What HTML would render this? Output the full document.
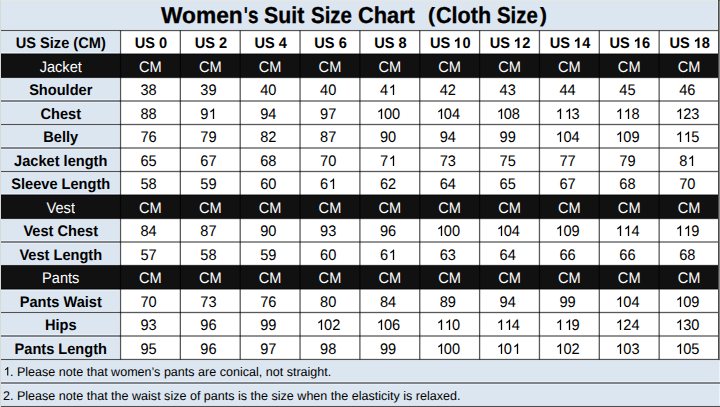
<!DOCTYPE html><html><head><meta charset="utf-8"><style>
html,body{margin:0;padding:0}
body{width:720px;height:407px;overflow:hidden;position:relative;background:#dce6f1;font-family:"Liberation Sans",sans-serif;color:#000;text-rendering:geometricPrecision}
svg{position:absolute;left:0;top:0}
.t{position:absolute;white-space:nowrap;text-align:center;height:20px;line-height:20px;font-size:14.60px;transform:scaleY(1.05);transform-origin:0 15px}
.b{font-weight:bold}
svg.o{position:static;display:inline-block;width:0.5562em;height:0.688em;vertical-align:baseline;fill:currentColor;overflow:visible}
.w{color:#fff}
.ti{position:absolute;top:0;font:bold 23px/30px "Liberation Sans",sans-serif;white-space:pre;transform-origin:0 0;text-rendering:geometricPrecision;-webkit-text-stroke:0.3px #000}
.n{position:absolute;white-space:nowrap;font-size:12.55px;line-height:16px}
</style></head><body>
<svg width="720" height="407" viewBox="0 0 720 407" shape-rendering="geometricPrecision"><rect x="0" y="0" width="720" height="1" fill="#e6e6e4"/><rect x="0" y="0" width="1" height="407" fill="#d8dada"/><rect x="120.50" y="30.50" width="598.50" height="329.00" fill="#fff"/><rect x="1" y="54.00" width="718.00" height="23.50" fill="#111"/><rect x="1" y="195.00" width="718.00" height="23.50" fill="#111"/><rect x="1" y="265.50" width="718.00" height="23.50" fill="#111"/><rect x="719" y="359.50" width="1" height="47.50" fill="#eef2f6"/><g fill="#000" fill-opacity="0.65"><rect x="1" y="29.850" width="719" height="1.30"/><rect x="1" y="53.350" width="719" height="1.30"/><rect x="1" y="76.850" width="719" height="1.30"/><rect x="1" y="100.350" width="719" height="1.30"/><rect x="1" y="123.850" width="719" height="1.30"/><rect x="1" y="147.350" width="719" height="1.30"/><rect x="1" y="170.850" width="719" height="1.30"/><rect x="1" y="194.350" width="719" height="1.30"/><rect x="1" y="217.850" width="719" height="1.30"/><rect x="1" y="241.350" width="719" height="1.30"/><rect x="1" y="264.850" width="719" height="1.30"/><rect x="1" y="288.350" width="719" height="1.30"/><rect x="1" y="311.850" width="719" height="1.30"/><rect x="1" y="335.350" width="719" height="1.30"/><rect x="1" y="358.850" width="719" height="1.30"/><rect x="1" y="382.350" width="719" height="1.30"/><rect x="1" y="405.850" width="719" height="1.30"/><rect x="119.850" y="30.500" width="1.30" height="329.000"/><rect x="179.700" y="30.500" width="1.30" height="329.000"/><rect x="239.550" y="30.500" width="1.30" height="329.000"/><rect x="299.400" y="30.500" width="1.30" height="329.000"/><rect x="359.250" y="30.500" width="1.30" height="329.000"/><rect x="419.100" y="30.500" width="1.30" height="329.000"/><rect x="478.950" y="30.500" width="1.30" height="329.000"/><rect x="538.800" y="30.500" width="1.30" height="329.000"/><rect x="598.650" y="30.500" width="1.30" height="329.000"/><rect x="658.500" y="30.500" width="1.30" height="329.000"/></g><g fill="#fff" fill-opacity="0.35"><rect x="1" y="29" width="717" height="1"/><rect x="1" y="31" width="119" height="1"/><rect x="1" y="52" width="119" height="1"/><rect x="1" y="78" width="119" height="1"/><rect x="1" y="99" width="119" height="1"/><rect x="1" y="102" width="119" height="1"/><rect x="1" y="123" width="119" height="1"/><rect x="1" y="125" width="119" height="1"/><rect x="1" y="146" width="119" height="1"/><rect x="1" y="149" width="119" height="1"/><rect x="1" y="170" width="119" height="1"/><rect x="1" y="172" width="119" height="1"/><rect x="1" y="193" width="119" height="1"/><rect x="1" y="219" width="119" height="1"/><rect x="1" y="240" width="119" height="1"/><rect x="1" y="243" width="119" height="1"/><rect x="1" y="264" width="119" height="1"/><rect x="1" y="290" width="119" height="1"/><rect x="1" y="311" width="119" height="1"/><rect x="1" y="313" width="119" height="1"/><rect x="1" y="334" width="119" height="1"/><rect x="1" y="337" width="119" height="1"/><rect x="1" y="358" width="119" height="1"/><rect x="1" y="360" width="718" height="1"/><rect x="1" y="381" width="718" height="1"/><rect x="1" y="384" width="718" height="1"/><rect x="1" y="405" width="718" height="1"/><rect x="119" y="32" width="1" height="20"/><rect x="119" y="79" width="1" height="20"/><rect x="119" y="103" width="1" height="20"/><rect x="119" y="126" width="1" height="20"/><rect x="119" y="150" width="1" height="20"/><rect x="119" y="173" width="1" height="20"/><rect x="119" y="220" width="1" height="20"/><rect x="119" y="244" width="1" height="20"/><rect x="119" y="291" width="1" height="20"/><rect x="119" y="314" width="1" height="20"/><rect x="119" y="338" width="1" height="20"/><rect x="717" y="0" width="1" height="29"/></g><rect x="718" y="0" width="1" height="359.50" fill="#4a4a4a"/><rect x="719" y="0" width="1" height="359.50" fill="#8a8a8a"/><rect x="719" y="0" width="1" height="1" fill="#2b8a22"/></svg>
<div class="ti" style="left:160.89px;transform:scaleX(0.9891)">Women</div>
<div class="ti" style="left:243.67px;transform:scaleX(0.6686)">'</div>
<div class="ti" style="left:248.38px;transform:scaleX(0.8218)">s</div>
<div class="ti" style="left:264.42px;transform:scaleX(0.9258)">Suit</div>
<div class="ti" style="left:311.04px;transform:scaleX(0.8893)">Size</div>
<div class="ti" style="left:358.08px;transform:scaleX(0.9469)">Chart</div>
<div class="ti" style="left:427.59px;transform:scale(0.9161,0.8966);transform-origin:0 15.3px">(</div>
<div class="ti" style="left:435.99px;transform:scaleX(0.9375)">Cloth</div>
<div class="ti" style="left:497.35px;transform:scaleX(0.8870)">Size</div>
<div class="ti" style="left:539.85px;transform:scale(0.9030,0.8966);transform-origin:0 15.3px">)</div>
<div class="t b" style="left:1.00px;top:34px;width:119.50px">US Size (CM)</div>
<div class="t b" style="left:121.10px;top:34px;width:59.85px">US 0</div>
<div class="t b" style="left:180.95px;top:34px;width:59.85px">US 2</div>
<div class="t b" style="left:240.80px;top:34px;width:59.85px">US 4</div>
<div class="t b" style="left:300.65px;top:34px;width:59.85px">US 6</div>
<div class="t b" style="left:360.50px;top:34px;width:59.85px">US 8</div>
<div class="t b" style="left:420.35px;top:34px;width:59.85px">US <svg class="o" viewBox="0 -1409 1139 1409"><path transform="translate(-40,0) scale(1,-1)" d="M815 0L534 0L534 1014Q380 876 171 810L171 1054Q281 1088 434 1184Q539 1280 587 1409L815 1409Z"/></svg>0</div>
<div class="t b" style="left:480.20px;top:34px;width:59.85px">US <svg class="o" viewBox="0 -1409 1139 1409"><path transform="translate(-40,0) scale(1,-1)" d="M815 0L534 0L534 1014Q380 876 171 810L171 1054Q281 1088 434 1184Q539 1280 587 1409L815 1409Z"/></svg>2</div>
<div class="t b" style="left:540.05px;top:34px;width:59.85px">US <svg class="o" viewBox="0 -1409 1139 1409"><path transform="translate(-40,0) scale(1,-1)" d="M815 0L534 0L534 1014Q380 876 171 810L171 1054Q281 1088 434 1184Q539 1280 587 1409L815 1409Z"/></svg>4</div>
<div class="t b" style="left:599.90px;top:34px;width:59.85px">US <svg class="o" viewBox="0 -1409 1139 1409"><path transform="translate(-40,0) scale(1,-1)" d="M815 0L534 0L534 1014Q380 876 171 810L171 1054Q281 1088 434 1184Q539 1280 587 1409L815 1409Z"/></svg>6</div>
<div class="t b" style="left:659.75px;top:34px;width:59.85px">US <svg class="o" viewBox="0 -1409 1139 1409"><path transform="translate(-40,0) scale(1,-1)" d="M815 0L534 0L534 1014Q380 876 171 810L171 1054Q281 1088 434 1184Q539 1280 587 1409L815 1409Z"/></svg>8</div>
<div class="t w" style="left:1.00px;top:58px;width:119.50px">Jacket</div>
<div class="t w" style="left:120.50px;top:58px;width:59.85px">CM</div>
<div class="t w" style="left:180.35px;top:58px;width:59.85px">CM</div>
<div class="t w" style="left:240.20px;top:58px;width:59.85px">CM</div>
<div class="t w" style="left:300.05px;top:58px;width:59.85px">CM</div>
<div class="t w" style="left:359.90px;top:58px;width:59.85px">CM</div>
<div class="t w" style="left:419.75px;top:58px;width:59.85px">CM</div>
<div class="t w" style="left:479.60px;top:58px;width:59.85px">CM</div>
<div class="t w" style="left:539.45px;top:58px;width:59.85px">CM</div>
<div class="t w" style="left:599.30px;top:58px;width:59.85px">CM</div>
<div class="t w" style="left:659.15px;top:58px;width:59.85px">CM</div>
<div class="t b" style="left:1.00px;top:81px;width:119.50px">Shoulder</div>
<div class="t " style="left:118.70px;top:81px;width:59.85px">38</div>
<div class="t " style="left:178.55px;top:81px;width:59.85px">39</div>
<div class="t " style="left:238.40px;top:81px;width:59.85px">40</div>
<div class="t " style="left:298.25px;top:81px;width:59.85px">40</div>
<div class="t " style="left:358.10px;top:81px;width:59.85px">4<svg class="o" viewBox="0 -1409 1139 1409"><path transform="translate(100,0) scale(1,-1)" d="M763 0L583 0L583 1098Q518 1039 412.5 979Q307 920 223 890L223 1057Q374 1125 486.5 1221Q599 1318 647 1409L763 1409Z"/></svg></div>
<div class="t " style="left:417.95px;top:81px;width:59.85px">42</div>
<div class="t " style="left:477.80px;top:81px;width:59.85px">43</div>
<div class="t " style="left:537.65px;top:81px;width:59.85px">44</div>
<div class="t " style="left:597.50px;top:81px;width:59.85px">45</div>
<div class="t " style="left:657.35px;top:81px;width:59.85px">46</div>
<div class="t b" style="left:1.00px;top:105px;width:119.50px">Chest</div>
<div class="t " style="left:118.70px;top:105px;width:59.85px">88</div>
<div class="t " style="left:178.55px;top:105px;width:59.85px">9<svg class="o" viewBox="0 -1409 1139 1409"><path transform="translate(100,0) scale(1,-1)" d="M763 0L583 0L583 1098Q518 1039 412.5 979Q307 920 223 890L223 1057Q374 1125 486.5 1221Q599 1318 647 1409L763 1409Z"/></svg></div>
<div class="t " style="left:238.40px;top:105px;width:59.85px">94</div>
<div class="t " style="left:298.25px;top:105px;width:59.85px">97</div>
<div class="t " style="left:358.10px;top:105px;width:59.85px"><svg class="o" viewBox="0 -1409 1139 1409"><path transform="translate(100,0) scale(1,-1)" d="M763 0L583 0L583 1098Q518 1039 412.5 979Q307 920 223 890L223 1057Q374 1125 486.5 1221Q599 1318 647 1409L763 1409Z"/></svg>00</div>
<div class="t " style="left:417.95px;top:105px;width:59.85px"><svg class="o" viewBox="0 -1409 1139 1409"><path transform="translate(100,0) scale(1,-1)" d="M763 0L583 0L583 1098Q518 1039 412.5 979Q307 920 223 890L223 1057Q374 1125 486.5 1221Q599 1318 647 1409L763 1409Z"/></svg>04</div>
<div class="t " style="left:477.80px;top:105px;width:59.85px"><svg class="o" viewBox="0 -1409 1139 1409"><path transform="translate(100,0) scale(1,-1)" d="M763 0L583 0L583 1098Q518 1039 412.5 979Q307 920 223 890L223 1057Q374 1125 486.5 1221Q599 1318 647 1409L763 1409Z"/></svg>08</div>
<div class="t " style="left:537.65px;top:105px;width:59.85px"><svg class="o" viewBox="0 -1409 1139 1409"><path transform="translate(100,0) scale(1,-1)" d="M763 0L583 0L583 1098Q518 1039 412.5 979Q307 920 223 890L223 1057Q374 1125 486.5 1221Q599 1318 647 1409L763 1409Z"/></svg><svg class="o" viewBox="0 -1409 1139 1409"><path transform="translate(100,0) scale(1,-1)" d="M763 0L583 0L583 1098Q518 1039 412.5 979Q307 920 223 890L223 1057Q374 1125 486.5 1221Q599 1318 647 1409L763 1409Z"/></svg>3</div>
<div class="t " style="left:597.50px;top:105px;width:59.85px"><svg class="o" viewBox="0 -1409 1139 1409"><path transform="translate(100,0) scale(1,-1)" d="M763 0L583 0L583 1098Q518 1039 412.5 979Q307 920 223 890L223 1057Q374 1125 486.5 1221Q599 1318 647 1409L763 1409Z"/></svg><svg class="o" viewBox="0 -1409 1139 1409"><path transform="translate(100,0) scale(1,-1)" d="M763 0L583 0L583 1098Q518 1039 412.5 979Q307 920 223 890L223 1057Q374 1125 486.5 1221Q599 1318 647 1409L763 1409Z"/></svg>8</div>
<div class="t " style="left:657.35px;top:105px;width:59.85px"><svg class="o" viewBox="0 -1409 1139 1409"><path transform="translate(100,0) scale(1,-1)" d="M763 0L583 0L583 1098Q518 1039 412.5 979Q307 920 223 890L223 1057Q374 1125 486.5 1221Q599 1318 647 1409L763 1409Z"/></svg>23</div>
<div class="t b" style="left:1.00px;top:128px;width:119.50px">Belly</div>
<div class="t " style="left:118.70px;top:128px;width:59.85px">76</div>
<div class="t " style="left:178.55px;top:128px;width:59.85px">79</div>
<div class="t " style="left:238.40px;top:128px;width:59.85px">82</div>
<div class="t " style="left:298.25px;top:128px;width:59.85px">87</div>
<div class="t " style="left:358.10px;top:128px;width:59.85px">90</div>
<div class="t " style="left:417.95px;top:128px;width:59.85px">94</div>
<div class="t " style="left:477.80px;top:128px;width:59.85px">99</div>
<div class="t " style="left:537.65px;top:128px;width:59.85px"><svg class="o" viewBox="0 -1409 1139 1409"><path transform="translate(100,0) scale(1,-1)" d="M763 0L583 0L583 1098Q518 1039 412.5 979Q307 920 223 890L223 1057Q374 1125 486.5 1221Q599 1318 647 1409L763 1409Z"/></svg>04</div>
<div class="t " style="left:597.50px;top:128px;width:59.85px"><svg class="o" viewBox="0 -1409 1139 1409"><path transform="translate(100,0) scale(1,-1)" d="M763 0L583 0L583 1098Q518 1039 412.5 979Q307 920 223 890L223 1057Q374 1125 486.5 1221Q599 1318 647 1409L763 1409Z"/></svg>09</div>
<div class="t " style="left:657.35px;top:128px;width:59.85px"><svg class="o" viewBox="0 -1409 1139 1409"><path transform="translate(100,0) scale(1,-1)" d="M763 0L583 0L583 1098Q518 1039 412.5 979Q307 920 223 890L223 1057Q374 1125 486.5 1221Q599 1318 647 1409L763 1409Z"/></svg><svg class="o" viewBox="0 -1409 1139 1409"><path transform="translate(100,0) scale(1,-1)" d="M763 0L583 0L583 1098Q518 1039 412.5 979Q307 920 223 890L223 1057Q374 1125 486.5 1221Q599 1318 647 1409L763 1409Z"/></svg>5</div>
<div class="t b" style="left:1.00px;top:152px;width:119.50px">Jacket length</div>
<div class="t " style="left:118.70px;top:152px;width:59.85px">65</div>
<div class="t " style="left:178.55px;top:152px;width:59.85px">67</div>
<div class="t " style="left:238.40px;top:152px;width:59.85px">68</div>
<div class="t " style="left:298.25px;top:152px;width:59.85px">70</div>
<div class="t " style="left:358.10px;top:152px;width:59.85px">7<svg class="o" viewBox="0 -1409 1139 1409"><path transform="translate(100,0) scale(1,-1)" d="M763 0L583 0L583 1098Q518 1039 412.5 979Q307 920 223 890L223 1057Q374 1125 486.5 1221Q599 1318 647 1409L763 1409Z"/></svg></div>
<div class="t " style="left:417.95px;top:152px;width:59.85px">73</div>
<div class="t " style="left:477.80px;top:152px;width:59.85px">75</div>
<div class="t " style="left:537.65px;top:152px;width:59.85px">77</div>
<div class="t " style="left:597.50px;top:152px;width:59.85px">79</div>
<div class="t " style="left:657.35px;top:152px;width:59.85px">8<svg class="o" viewBox="0 -1409 1139 1409"><path transform="translate(100,0) scale(1,-1)" d="M763 0L583 0L583 1098Q518 1039 412.5 979Q307 920 223 890L223 1057Q374 1125 486.5 1221Q599 1318 647 1409L763 1409Z"/></svg></div>
<div class="t b" style="left:1.00px;top:175px;width:119.50px">Sleeve Length</div>
<div class="t " style="left:118.70px;top:175px;width:59.85px">58</div>
<div class="t " style="left:178.55px;top:175px;width:59.85px">59</div>
<div class="t " style="left:238.40px;top:175px;width:59.85px">60</div>
<div class="t " style="left:298.25px;top:175px;width:59.85px">6<svg class="o" viewBox="0 -1409 1139 1409"><path transform="translate(100,0) scale(1,-1)" d="M763 0L583 0L583 1098Q518 1039 412.5 979Q307 920 223 890L223 1057Q374 1125 486.5 1221Q599 1318 647 1409L763 1409Z"/></svg></div>
<div class="t " style="left:358.10px;top:175px;width:59.85px">62</div>
<div class="t " style="left:417.95px;top:175px;width:59.85px">64</div>
<div class="t " style="left:477.80px;top:175px;width:59.85px">65</div>
<div class="t " style="left:537.65px;top:175px;width:59.85px">67</div>
<div class="t " style="left:597.50px;top:175px;width:59.85px">68</div>
<div class="t " style="left:657.35px;top:175px;width:59.85px">70</div>
<div class="t w" style="left:1.00px;top:199px;width:119.50px">Vest</div>
<div class="t w" style="left:120.50px;top:199px;width:59.85px">CM</div>
<div class="t w" style="left:180.35px;top:199px;width:59.85px">CM</div>
<div class="t w" style="left:240.20px;top:199px;width:59.85px">CM</div>
<div class="t w" style="left:300.05px;top:199px;width:59.85px">CM</div>
<div class="t w" style="left:359.90px;top:199px;width:59.85px">CM</div>
<div class="t w" style="left:419.75px;top:199px;width:59.85px">CM</div>
<div class="t w" style="left:479.60px;top:199px;width:59.85px">CM</div>
<div class="t w" style="left:539.45px;top:199px;width:59.85px">CM</div>
<div class="t w" style="left:599.30px;top:199px;width:59.85px">CM</div>
<div class="t w" style="left:659.15px;top:199px;width:59.85px">CM</div>
<div class="t b" style="left:1.00px;top:222px;width:119.50px">Vest Chest</div>
<div class="t " style="left:118.70px;top:222px;width:59.85px">84</div>
<div class="t " style="left:178.55px;top:222px;width:59.85px">87</div>
<div class="t " style="left:238.40px;top:222px;width:59.85px">90</div>
<div class="t " style="left:298.25px;top:222px;width:59.85px">93</div>
<div class="t " style="left:358.10px;top:222px;width:59.85px">96</div>
<div class="t " style="left:417.95px;top:222px;width:59.85px"><svg class="o" viewBox="0 -1409 1139 1409"><path transform="translate(100,0) scale(1,-1)" d="M763 0L583 0L583 1098Q518 1039 412.5 979Q307 920 223 890L223 1057Q374 1125 486.5 1221Q599 1318 647 1409L763 1409Z"/></svg>00</div>
<div class="t " style="left:477.80px;top:222px;width:59.85px"><svg class="o" viewBox="0 -1409 1139 1409"><path transform="translate(100,0) scale(1,-1)" d="M763 0L583 0L583 1098Q518 1039 412.5 979Q307 920 223 890L223 1057Q374 1125 486.5 1221Q599 1318 647 1409L763 1409Z"/></svg>04</div>
<div class="t " style="left:537.65px;top:222px;width:59.85px"><svg class="o" viewBox="0 -1409 1139 1409"><path transform="translate(100,0) scale(1,-1)" d="M763 0L583 0L583 1098Q518 1039 412.5 979Q307 920 223 890L223 1057Q374 1125 486.5 1221Q599 1318 647 1409L763 1409Z"/></svg>09</div>
<div class="t " style="left:597.50px;top:222px;width:59.85px"><svg class="o" viewBox="0 -1409 1139 1409"><path transform="translate(100,0) scale(1,-1)" d="M763 0L583 0L583 1098Q518 1039 412.5 979Q307 920 223 890L223 1057Q374 1125 486.5 1221Q599 1318 647 1409L763 1409Z"/></svg><svg class="o" viewBox="0 -1409 1139 1409"><path transform="translate(100,0) scale(1,-1)" d="M763 0L583 0L583 1098Q518 1039 412.5 979Q307 920 223 890L223 1057Q374 1125 486.5 1221Q599 1318 647 1409L763 1409Z"/></svg>4</div>
<div class="t " style="left:657.35px;top:222px;width:59.85px"><svg class="o" viewBox="0 -1409 1139 1409"><path transform="translate(100,0) scale(1,-1)" d="M763 0L583 0L583 1098Q518 1039 412.5 979Q307 920 223 890L223 1057Q374 1125 486.5 1221Q599 1318 647 1409L763 1409Z"/></svg><svg class="o" viewBox="0 -1409 1139 1409"><path transform="translate(100,0) scale(1,-1)" d="M763 0L583 0L583 1098Q518 1039 412.5 979Q307 920 223 890L223 1057Q374 1125 486.5 1221Q599 1318 647 1409L763 1409Z"/></svg>9</div>
<div class="t b" style="left:1.00px;top:246px;width:119.50px">Vest Length</div>
<div class="t " style="left:118.70px;top:246px;width:59.85px">57</div>
<div class="t " style="left:178.55px;top:246px;width:59.85px">58</div>
<div class="t " style="left:238.40px;top:246px;width:59.85px">59</div>
<div class="t " style="left:298.25px;top:246px;width:59.85px">60</div>
<div class="t " style="left:358.10px;top:246px;width:59.85px">6<svg class="o" viewBox="0 -1409 1139 1409"><path transform="translate(100,0) scale(1,-1)" d="M763 0L583 0L583 1098Q518 1039 412.5 979Q307 920 223 890L223 1057Q374 1125 486.5 1221Q599 1318 647 1409L763 1409Z"/></svg></div>
<div class="t " style="left:417.95px;top:246px;width:59.85px">63</div>
<div class="t " style="left:477.80px;top:246px;width:59.85px">64</div>
<div class="t " style="left:537.65px;top:246px;width:59.85px">66</div>
<div class="t " style="left:597.50px;top:246px;width:59.85px">66</div>
<div class="t " style="left:657.35px;top:246px;width:59.85px">68</div>
<div class="t w" style="left:1.00px;top:269px;width:119.50px">Pants</div>
<div class="t w" style="left:120.50px;top:269px;width:59.85px">CM</div>
<div class="t w" style="left:180.35px;top:269px;width:59.85px">CM</div>
<div class="t w" style="left:240.20px;top:269px;width:59.85px">CM</div>
<div class="t w" style="left:300.05px;top:269px;width:59.85px">CM</div>
<div class="t w" style="left:359.90px;top:269px;width:59.85px">CM</div>
<div class="t w" style="left:419.75px;top:269px;width:59.85px">CM</div>
<div class="t w" style="left:479.60px;top:269px;width:59.85px">CM</div>
<div class="t w" style="left:539.45px;top:269px;width:59.85px">CM</div>
<div class="t w" style="left:599.30px;top:269px;width:59.85px">CM</div>
<div class="t w" style="left:659.15px;top:269px;width:59.85px">CM</div>
<div class="t b" style="left:1.00px;top:293px;width:119.50px">Pants Waist</div>
<div class="t " style="left:118.70px;top:293px;width:59.85px">70</div>
<div class="t " style="left:178.55px;top:293px;width:59.85px">73</div>
<div class="t " style="left:238.40px;top:293px;width:59.85px">76</div>
<div class="t " style="left:298.25px;top:293px;width:59.85px">80</div>
<div class="t " style="left:358.10px;top:293px;width:59.85px">84</div>
<div class="t " style="left:417.95px;top:293px;width:59.85px">89</div>
<div class="t " style="left:477.80px;top:293px;width:59.85px">94</div>
<div class="t " style="left:537.65px;top:293px;width:59.85px">99</div>
<div class="t " style="left:597.50px;top:293px;width:59.85px"><svg class="o" viewBox="0 -1409 1139 1409"><path transform="translate(100,0) scale(1,-1)" d="M763 0L583 0L583 1098Q518 1039 412.5 979Q307 920 223 890L223 1057Q374 1125 486.5 1221Q599 1318 647 1409L763 1409Z"/></svg>04</div>
<div class="t " style="left:657.35px;top:293px;width:59.85px"><svg class="o" viewBox="0 -1409 1139 1409"><path transform="translate(100,0) scale(1,-1)" d="M763 0L583 0L583 1098Q518 1039 412.5 979Q307 920 223 890L223 1057Q374 1125 486.5 1221Q599 1318 647 1409L763 1409Z"/></svg>09</div>
<div class="t b" style="left:1.00px;top:316px;width:119.50px">Hips</div>
<div class="t " style="left:118.70px;top:316px;width:59.85px">93</div>
<div class="t " style="left:178.55px;top:316px;width:59.85px">96</div>
<div class="t " style="left:238.40px;top:316px;width:59.85px">99</div>
<div class="t " style="left:298.25px;top:316px;width:59.85px"><svg class="o" viewBox="0 -1409 1139 1409"><path transform="translate(100,0) scale(1,-1)" d="M763 0L583 0L583 1098Q518 1039 412.5 979Q307 920 223 890L223 1057Q374 1125 486.5 1221Q599 1318 647 1409L763 1409Z"/></svg>02</div>
<div class="t " style="left:358.10px;top:316px;width:59.85px"><svg class="o" viewBox="0 -1409 1139 1409"><path transform="translate(100,0) scale(1,-1)" d="M763 0L583 0L583 1098Q518 1039 412.5 979Q307 920 223 890L223 1057Q374 1125 486.5 1221Q599 1318 647 1409L763 1409Z"/></svg>06</div>
<div class="t " style="left:417.95px;top:316px;width:59.85px"><svg class="o" viewBox="0 -1409 1139 1409"><path transform="translate(100,0) scale(1,-1)" d="M763 0L583 0L583 1098Q518 1039 412.5 979Q307 920 223 890L223 1057Q374 1125 486.5 1221Q599 1318 647 1409L763 1409Z"/></svg><svg class="o" viewBox="0 -1409 1139 1409"><path transform="translate(100,0) scale(1,-1)" d="M763 0L583 0L583 1098Q518 1039 412.5 979Q307 920 223 890L223 1057Q374 1125 486.5 1221Q599 1318 647 1409L763 1409Z"/></svg>0</div>
<div class="t " style="left:477.80px;top:316px;width:59.85px"><svg class="o" viewBox="0 -1409 1139 1409"><path transform="translate(100,0) scale(1,-1)" d="M763 0L583 0L583 1098Q518 1039 412.5 979Q307 920 223 890L223 1057Q374 1125 486.5 1221Q599 1318 647 1409L763 1409Z"/></svg><svg class="o" viewBox="0 -1409 1139 1409"><path transform="translate(100,0) scale(1,-1)" d="M763 0L583 0L583 1098Q518 1039 412.5 979Q307 920 223 890L223 1057Q374 1125 486.5 1221Q599 1318 647 1409L763 1409Z"/></svg>4</div>
<div class="t " style="left:537.65px;top:316px;width:59.85px"><svg class="o" viewBox="0 -1409 1139 1409"><path transform="translate(100,0) scale(1,-1)" d="M763 0L583 0L583 1098Q518 1039 412.5 979Q307 920 223 890L223 1057Q374 1125 486.5 1221Q599 1318 647 1409L763 1409Z"/></svg><svg class="o" viewBox="0 -1409 1139 1409"><path transform="translate(100,0) scale(1,-1)" d="M763 0L583 0L583 1098Q518 1039 412.5 979Q307 920 223 890L223 1057Q374 1125 486.5 1221Q599 1318 647 1409L763 1409Z"/></svg>9</div>
<div class="t " style="left:597.50px;top:316px;width:59.85px"><svg class="o" viewBox="0 -1409 1139 1409"><path transform="translate(100,0) scale(1,-1)" d="M763 0L583 0L583 1098Q518 1039 412.5 979Q307 920 223 890L223 1057Q374 1125 486.5 1221Q599 1318 647 1409L763 1409Z"/></svg>24</div>
<div class="t " style="left:657.35px;top:316px;width:59.85px"><svg class="o" viewBox="0 -1409 1139 1409"><path transform="translate(100,0) scale(1,-1)" d="M763 0L583 0L583 1098Q518 1039 412.5 979Q307 920 223 890L223 1057Q374 1125 486.5 1221Q599 1318 647 1409L763 1409Z"/></svg>30</div>
<div class="t b" style="left:1.00px;top:340px;width:119.50px">Pants Length</div>
<div class="t " style="left:118.70px;top:340px;width:59.85px">95</div>
<div class="t " style="left:178.55px;top:340px;width:59.85px">96</div>
<div class="t " style="left:238.40px;top:340px;width:59.85px">97</div>
<div class="t " style="left:298.25px;top:340px;width:59.85px">98</div>
<div class="t " style="left:358.10px;top:340px;width:59.85px">99</div>
<div class="t " style="left:417.95px;top:340px;width:59.85px"><svg class="o" viewBox="0 -1409 1139 1409"><path transform="translate(100,0) scale(1,-1)" d="M763 0L583 0L583 1098Q518 1039 412.5 979Q307 920 223 890L223 1057Q374 1125 486.5 1221Q599 1318 647 1409L763 1409Z"/></svg>00</div>
<div class="t " style="left:477.80px;top:340px;width:59.85px"><svg class="o" viewBox="0 -1409 1139 1409"><path transform="translate(100,0) scale(1,-1)" d="M763 0L583 0L583 1098Q518 1039 412.5 979Q307 920 223 890L223 1057Q374 1125 486.5 1221Q599 1318 647 1409L763 1409Z"/></svg>0<svg class="o" viewBox="0 -1409 1139 1409"><path transform="translate(100,0) scale(1,-1)" d="M763 0L583 0L583 1098Q518 1039 412.5 979Q307 920 223 890L223 1057Q374 1125 486.5 1221Q599 1318 647 1409L763 1409Z"/></svg></div>
<div class="t " style="left:537.65px;top:340px;width:59.85px"><svg class="o" viewBox="0 -1409 1139 1409"><path transform="translate(100,0) scale(1,-1)" d="M763 0L583 0L583 1098Q518 1039 412.5 979Q307 920 223 890L223 1057Q374 1125 486.5 1221Q599 1318 647 1409L763 1409Z"/></svg>02</div>
<div class="t " style="left:597.50px;top:340px;width:59.85px"><svg class="o" viewBox="0 -1409 1139 1409"><path transform="translate(100,0) scale(1,-1)" d="M763 0L583 0L583 1098Q518 1039 412.5 979Q307 920 223 890L223 1057Q374 1125 486.5 1221Q599 1318 647 1409L763 1409Z"/></svg>03</div>
<div class="t " style="left:657.35px;top:340px;width:59.85px"><svg class="o" viewBox="0 -1409 1139 1409"><path transform="translate(100,0) scale(1,-1)" d="M763 0L583 0L583 1098Q518 1039 412.5 979Q307 920 223 890L223 1057Q374 1125 486.5 1221Q599 1318 647 1409L763 1409Z"/></svg>05</div>
<div class="n" style="left:3px;top:364px"><svg class="o" viewBox="0 -1409 1139 1409"><path transform="translate(100,0) scale(1,-1)" d="M763 0L583 0L583 1098Q518 1039 412.5 979Q307 920 223 890L223 1057Q374 1125 486.5 1221Q599 1318 647 1409L763 1409Z"/></svg>. Please note that women’s pants are conical, not straight.</div>
<div class="n" style="left:3px;top:388px">2. Please note that the waist size of pants is the size when the elasticity is relaxed.</div>
</body></html>
